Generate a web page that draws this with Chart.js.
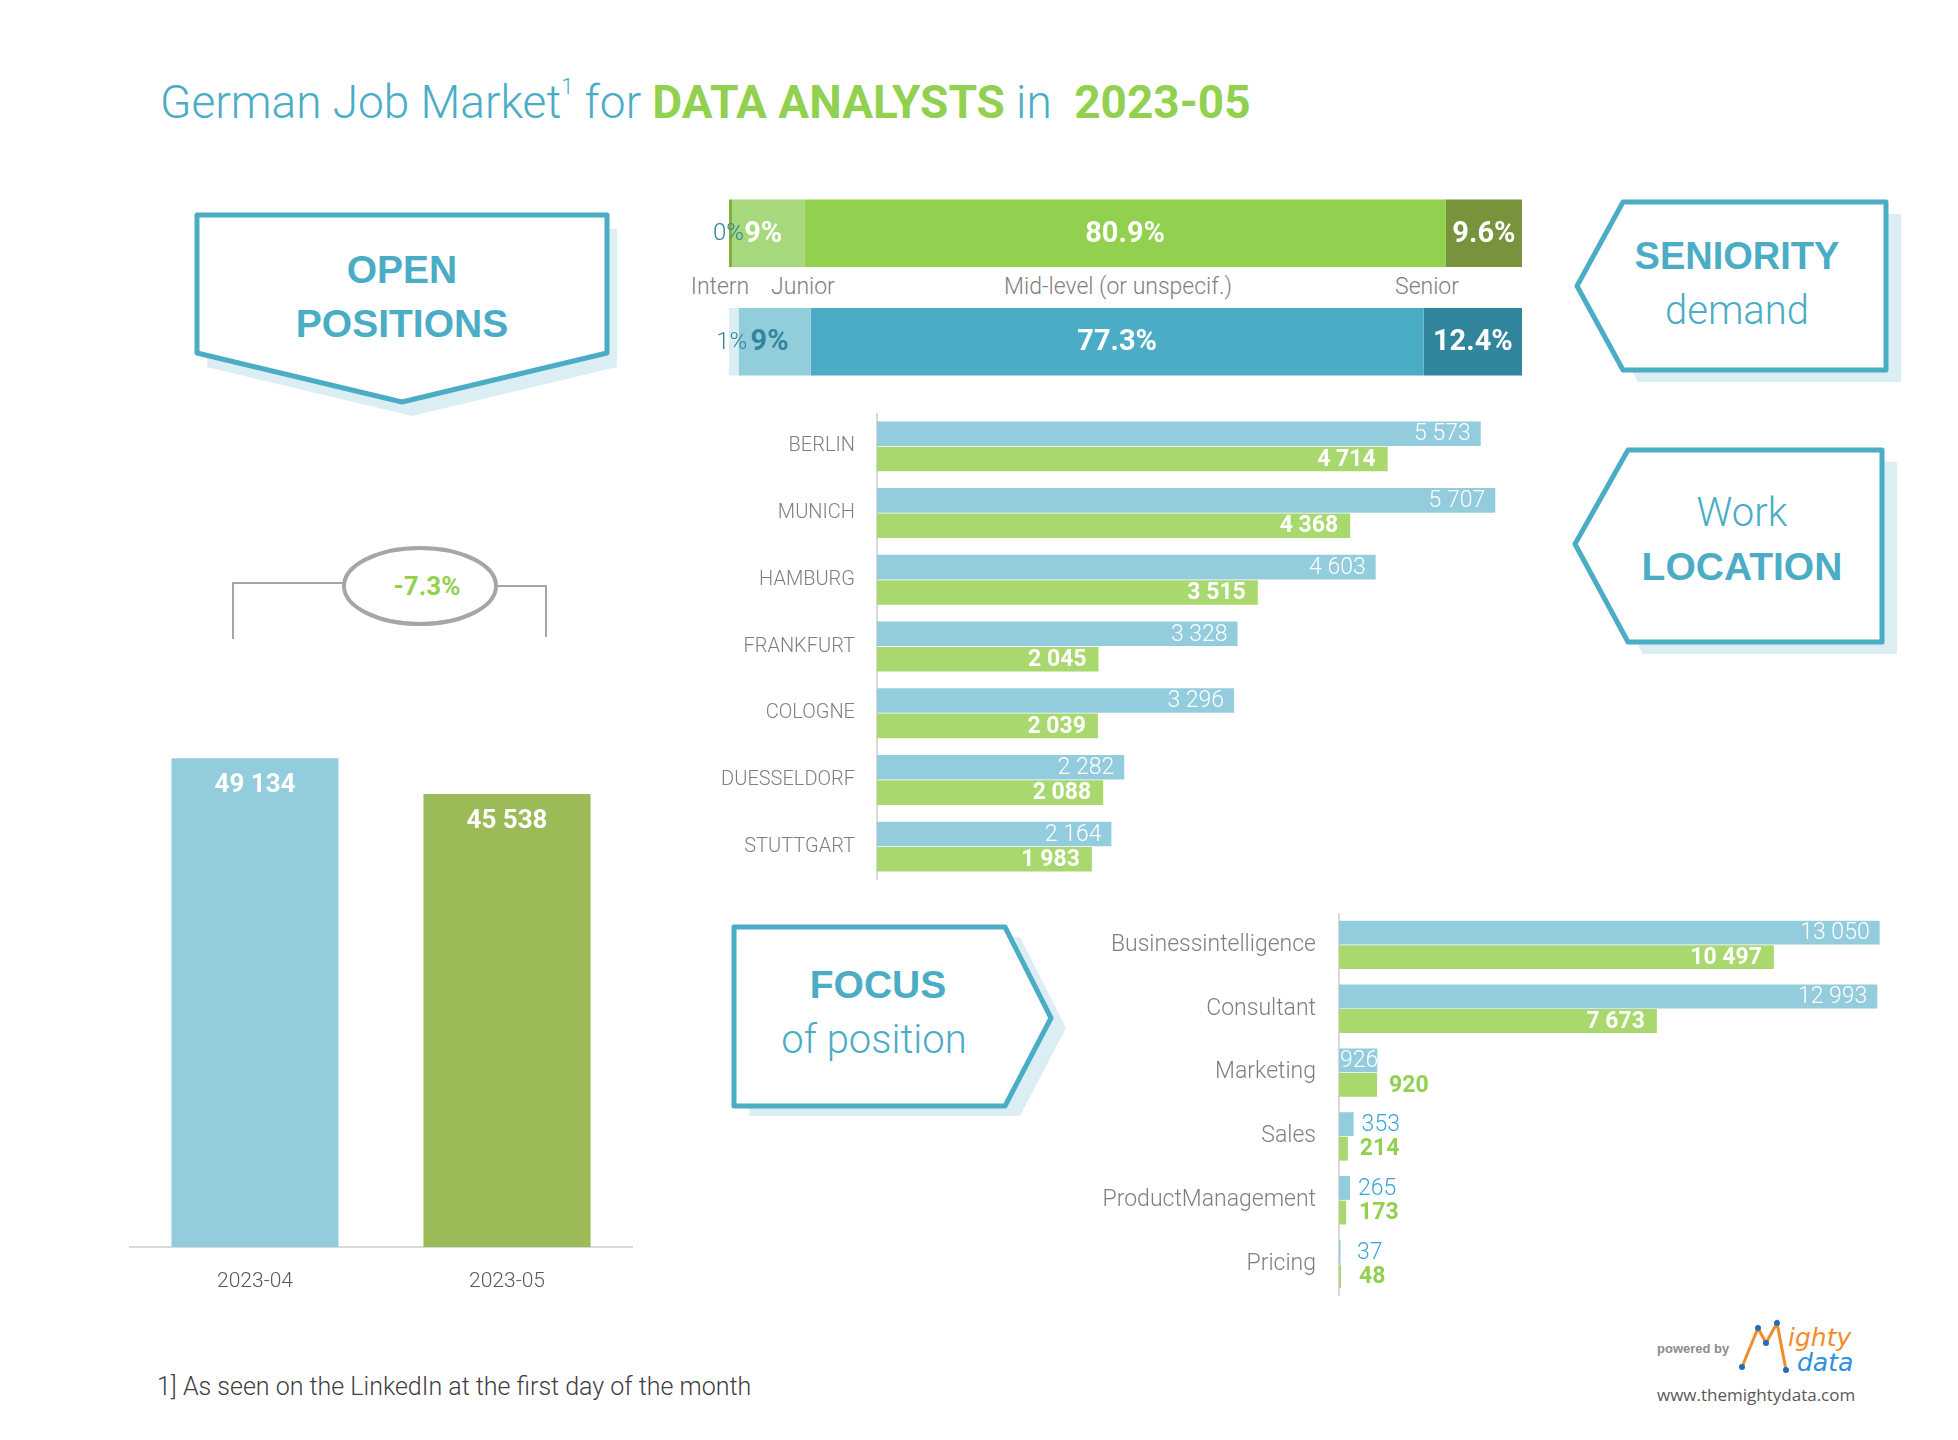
<!DOCTYPE html>
<html>
<head>
<meta charset="utf-8">
<script src="https://cdn.jsdelivr.net/npm/chart.js@4.4.1/dist/chart.umd.min.js"></script>
<style>
  html, body { margin: 0; padding: 0; background: #fff; }
  #page { position: relative; width: 1958px; height: 1440px; overflow: hidden; font-family: Roboto, sans-serif; }
  .chart { position: absolute; }
  #title { position: absolute; left: 160px; top: 75px; font-size: 46px; white-space: pre; color: #4BACC6; font-weight: 300; }
  #title b { color: #92D050; font-weight: 700; }
  #title sup { font-size: 22px; vertical-align: 24px; line-height: 0; }
  .lvl { position: absolute; top: 273px; font-size: 23px; font-weight: 300; color: #7f7f7f; transform: translateX(-50%); white-space: nowrap; }
  #footnote { position: absolute; left: 157px; top: 1372px; font-size: 25px; font-weight: 300; color: #404040; }
</style>
</head>
<body>
<div id="page">

  <!-- boxes, bracket, logo -->
  <svg width="1958" height="1440" style="position:absolute;left:0;top:0">
    <g fill="#DAEEF3">
      <polygon points="207,229 617,229 617,367 412,416 207,367"/>
      <polygon points="1592,298 1638,214 1901,214 1901,382 1638,382"/>
      <polygon points="1590,556 1643,462 1897,462 1897,654 1643,654"/>
      <polygon points="749,937 1020,937 1066,1028 1020,1116 749,1116"/>
    </g>
    <g fill="#fff" stroke="#4BACC6" stroke-width="5" stroke-linejoin="round">
      <polygon points="197,215 607,215 607,353 402,402 197,353"/>
      <polygon points="1577,286 1623,202 1886,202 1886,370 1623,370"/>
      <polygon points="1575,544 1628,450 1882,450 1882,642 1628,642"/>
      <polygon points="734,927 1005,927 1051,1018 1005,1106 734,1106"/>
    </g>
    <g fill="#4BACC6" text-anchor="middle">
      <text x="402" y="283" font-family="Liberation Sans, Arial, sans-serif" font-weight="bold" font-size="39">OPEN</text>
      <text x="402" y="337" font-family="Liberation Sans, Arial, sans-serif" font-weight="bold" font-size="39">POSITIONS</text>
      <text x="1737" y="269" font-family="Liberation Sans, Arial, sans-serif" font-weight="bold" font-size="38">SENIORITY</text>
      <text x="1737" y="324" font-family="Roboto, sans-serif" font-weight="300" font-size="40">demand</text>
      <text x="1742" y="526" font-family="Roboto, sans-serif" font-weight="300" font-size="40">Work</text>
      <text x="1742" y="580" font-family="Liberation Sans, Arial, sans-serif" font-weight="bold" font-size="39">LOCATION</text>
      <text x="878" y="998" font-family="Liberation Sans, Arial, sans-serif" font-weight="bold" font-size="39">FOCUS</text>
      <text x="874" y="1053" font-family="Roboto, sans-serif" font-weight="300" font-size="40">of position</text>
    </g>
    <!-- change bracket -->
    <g stroke="#A6A6A6" stroke-width="2" fill="none">
      <polyline points="233,639 233,583 344,583"/>
      <polyline points="496,586 546,586 546,637"/>
    </g>
    <ellipse cx="420" cy="586" rx="76" ry="38" fill="#fff" stroke="#A6A6A6" stroke-width="4"/>
    <text id="changeText" x="427" y="595" text-anchor="middle" font-family="Roboto, sans-serif" font-weight="700" font-size="26" fill="#92D050"></text>
    <!-- logo -->
    <text x="1657" y="1353" font-family="Liberation Sans, Arial, sans-serif" font-weight="bold" font-size="13" fill="#8c8c8c">powered by</text>
    <polyline points="1742,1367 1758,1328 1766,1343 1777,1323 1786,1370" fill="none" stroke="#F28C28" stroke-width="3"/>
    <g fill="#1F6FB8">
      <circle cx="1742" cy="1367" r="3"/><circle cx="1758" cy="1328" r="3"/>
      <circle cx="1766" cy="1343" r="3"/><circle cx="1777" cy="1323" r="3"/>
      <circle cx="1786" cy="1370" r="3"/>
    </g>
    <text x="1788" y="1346" font-family="DejaVu Sans, sans-serif" font-style="italic" font-size="25" fill="#F28C28">ighty</text>
    <text x="1797" y="1371" font-family="DejaVu Sans, sans-serif" font-style="italic" font-size="25" fill="#2F8FE0">data</text>
    <text x="1657" y="1401" font-family="Open Sans, sans-serif" font-size="17" fill="#595959">www.themightydata.com</text>
  </svg>

  <div id="title"></div>

  <div class="lvl" style="left:720px">Intern</div>
  <div class="lvl" style="left:803px">Junior</div>
  <div class="lvl" style="left:1118px">Mid-level (or unspecif.)</div>
  <div class="lvl" style="left:1427px">Senior</div>

  <div class="chart" style="left:129px;top:700px;width:504px;height:597px"><canvas id="openChart"></canvas></div>
  <div class="chart" style="left:689px;top:179px;width:833px;height:217px"><canvas id="seniorityChart"></canvas></div>
  <div class="chart" style="left:677px;top:413px;width:850px;height:467px"><canvas id="locationChart"></canvas></div>
  <div class="chart" style="left:1039px;top:913px;width:880px;height:383px"><canvas id="focusChart"></canvas></div>

  <div id="footnote">1] As seen on the LinkedIn at the first day of the month</div>
</div>

<script>
// months compared
const openMonths = ['2023-04', '2023-05'];
const openTotals = [49134, 45538];

// seniority shares (%), top row = current month, bottom row = previous month
const seniorityLevels = ['Intern', 'Junior', 'Mid-level (or unspecif.)', 'Senior'];
const seniorityMay = [0.4, 9.1, 80.9, 9.6];
const seniorityApr = [1.2, 9.1, 77.3, 12.4];
const seniorityDecimals = [0, 0, 1, 1];

// work location
const cities = ['BERLIN', 'MUNICH', 'HAMBURG', 'FRANKFURT', 'COLOGNE', 'DUESSELDORF', 'STUTTGART'];
const citiesApr = [5573, 5707, 4603, 3328, 3296, 2282, 2164];
const citiesMay = [4714, 4368, 3515, 2045, 2039, 2088, 1983];

// focus of position
const focusAreas = ['Businessintelligence', 'Consultant', 'Marketing', 'Sales', 'ProductManagement', 'Pricing'];
const focusApr = [13050, 12993, 926, 353, 265, 37];
const focusMay = [10497, 7673, 920, 214, 173, 48];

const BLUE_BAR = '#93CDDD';
const GREEN_BAR = '#A8D86E';
const GREY_TEXT = '#7f7f7f';

Chart.defaults.font.family = 'Roboto, sans-serif';
Chart.defaults.animation = false;

// title and change badge
document.getElementById('title').innerHTML =
    'German Job Market<sup>1</sup> for <b>DATA ANALYSTS</b> in  <b>' + openMonths[1] + '</b>';
const change = (openTotals[1] / openTotals[0] - 1) * 100;
document.getElementById('changeText').textContent = change.toFixed(1) + '%';

function formatNumber(num) {
    return num.toString().replace(/\B(?=(\d{3})+(?!\d))/g, ' ');
}

/**
 * open positions, month against month
 */
const openLabels = {
    id: 'openLabels',
    afterDatasetsDraw(chart) {
        const ctx = chart.ctx;
        ctx.save();
        ctx.font = '700 26px Roboto, sans-serif';
        ctx.fillStyle = '#fff';
        ctx.textAlign = 'center';
        ctx.textBaseline = 'middle';
        chart.getDatasetMeta(0).data.forEach((bar, i) => {
            ctx.fillText(formatNumber(openTotals[i]), bar.x, bar.y + 27);
        });
        ctx.restore();
    }
};

new Chart(document.getElementById('openChart'), {
    type: 'bar',
    data: {
        labels: openMonths,
        datasets: [{
            data: openTotals,
            backgroundColor: [BLUE_BAR, '#9BBB59'],
            barPercentage: 0.663,
            categoryPercentage: 1
        }]
    },
    options: {
        responsive: true,
        maintainAspectRatio: false,
        layout: { padding: 0 },
        plugins: { legend: { display: false }, tooltip: { enabled: false } },
        scales: {
            x: {
                grid: { display: false, drawTicks: false },
                border: { display: true, color: '#d9d9d9', width: 2 },
                ticks: { color: '#595959', padding: 22, font: { size: 21, weight: '300' } },
                afterFit: (scale) => { scale.height = 50; }
            },
            y: { display: false, min: 0, max: 55000 }
        }
    },
    plugins: [openLabels]
});

/**
 * seniority split, stacked to 100 %
 */
const seniorityGreens = ['#7FAF3F', '#A8D87C', '#92D050', '#77933C'];
const seniorityBlues = ['#DAEEF3', '#92CDDC', '#4BACC6', '#31859C'];

const seniorityLabels = {
    id: 'seniorityLabels',
    afterDatasetsDraw(chart) {
        const ctx = chart.ctx;
        ctx.save();
        ctx.textAlign = 'center';
        ctx.textBaseline = 'middle';
        chart.data.datasets.forEach((ds, i) => {
            chart.getDatasetMeta(i).data.forEach((bar, j) => {
                const text = ds.data[j].toFixed(seniorityDecimals[i]) + '%';
                let x = (bar.x + bar.base) / 2;
                if (i === 0) {
                    ctx.font = '300 24px Roboto, sans-serif';
                    ctx.fillStyle = '#31859C';
                    x -= 2;
                } else {
                    ctx.font = '700 29px Roboto, sans-serif';
                    ctx.fillStyle = (i === 1 && j === 1) ? '#31859C' : '#fff';
                    if (i === 1) x -= 5;
                }
                ctx.fillText(text, x, bar.y + 1);
            });
        });
        ctx.restore();
    }
};

new Chart(document.getElementById('seniorityChart'), {
    type: 'bar',
    data: {
        labels: [openMonths[1], openMonths[0]],
        datasets: seniorityLevels.map((level, i) => ({
            label: level,
            data: [seniorityMay[i], seniorityApr[i]],
            backgroundColor: [seniorityGreens[i], seniorityBlues[i]],
            barPercentage: 1,
            categoryPercentage: 0.622
        }))
    },
    options: {
        indexAxis: 'y',
        responsive: true,
        maintainAspectRatio: false,
        layout: { padding: { left: 40 } },
        plugins: { legend: { display: false }, tooltip: { enabled: false } },
        scales: {
            x: { display: false, stacked: true, min: 0, max: 100 },
            y: { display: false, stacked: true }
        }
    },
    plugins: [seniorityLabels]
});

/**
 * value labels for the grouped horizontal bars
 */
function barValueLabels(styles) {
    return {
        id: 'barValueLabels',
        afterDatasetsDraw(chart) {
            const ctx = chart.ctx;
            ctx.save();
            ctx.textBaseline = 'middle';
            chart.data.datasets.forEach((ds, i) => {
                const st = styles[i];
                ctx.font = st.font;
                chart.getDatasetMeta(i).data.forEach((bar, j) => {
                    const text = formatNumber(ds.data[j]);
                    const w = ctx.measureText(text).width;
                    const len = bar.x - bar.base;
                    if (len > w + st.pad + 4) {
                        ctx.fillStyle = '#fff';
                        ctx.textAlign = 'right';
                        ctx.fillText(text, bar.x - st.pad, bar.y + 1);
                    } else if (st.overlay && len > w * 0.8) {
                        ctx.fillStyle = '#fff';
                        ctx.textAlign = 'left';
                        ctx.fillText(text, bar.base + 1, bar.y + 1);
                    } else {
                        ctx.fillStyle = st.outside;
                        ctx.textAlign = 'left';
                        ctx.fillText(text, Math.max(bar.x + st.gap, bar.base + st.min), bar.y + 1);
                    }
                });
            });
            ctx.restore();
        }
    };
}

function groupedBarChart(canvas, labels, aprData, mayData, max, axisWidth, tickFont, tickPadding, catPct) {
    new Chart(canvas, {
        type: 'bar',
        data: {
            labels: labels,
            datasets: [
                { data: aprData, backgroundColor: BLUE_BAR, barPercentage: 0.97, categoryPercentage: catPct },
                { data: mayData, backgroundColor: GREEN_BAR, barPercentage: 0.97, categoryPercentage: catPct }
            ]
        },
        options: {
            indexAxis: 'y',
            responsive: true,
            maintainAspectRatio: false,
            layout: { padding: 0 },
            plugins: { legend: { display: false }, tooltip: { enabled: false } },
            scales: {
                x: { display: false, min: 0, max: max },
                y: {
                    grid: { display: false, drawTicks: false },
                    border: { display: true, color: '#d9d9d9', width: 2 },
                    ticks: { color: GREY_TEXT, padding: tickPadding, font: tickFont },
                    afterFit: (scale) => {
                        scale.width = axisWidth;
                        scale.paddingTop = 0;
                        scale.paddingBottom = 0;
                    }
                }
            }
        },
        plugins: [barValueLabels([
            { font: '300 23px Roboto, sans-serif', pad: 10, gap: 8, min: 18, overlay: true, outside: '#3AA5D6' },
            { font: '700 23px Roboto, sans-serif', pad: 12, gap: 12, min: 20, overlay: false, outside: '#92D050' }
        ])]
    });
}

groupedBarChart(document.getElementById('locationChart'), cities, citiesApr, citiesMay,
    6000, 200, { size: 20, weight: '300' }, 22, 0.76);

groupedBarChart(document.getElementById('focusChart'), focusAreas, focusApr, focusMay,
    14000, 300, { size: 23, weight: '300' }, 23, 0.77);
</script>
</body>
</html>
